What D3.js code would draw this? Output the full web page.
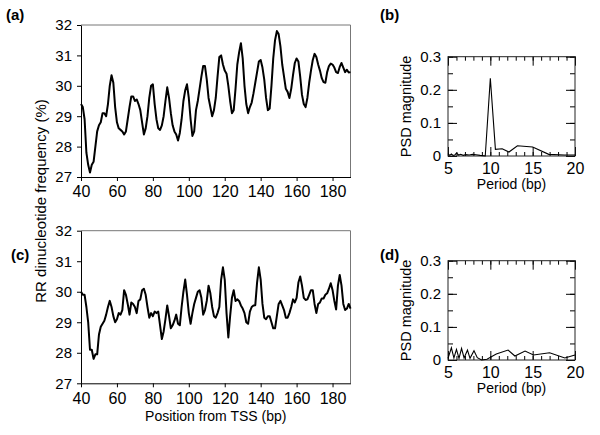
<!DOCTYPE html>
<html><head><meta charset="utf-8">
<script src="https://cdn.jsdelivr.net/npm/d3@7"></script>
<style>
body{margin:0;background:#fff}
svg text{font-family:"Liberation Sans",Arial,Helvetica,sans-serif}
</style>
</head><body>
<svg id="chart" width="600" height="435"></svg>
<script>
// ---------- DATA ----------
const positions = d3.range(40, 191); // bp from TSS, 40..190
const posTicks = [40, 60, 80, 100, 120, 140, 160, 180];
const freqTicks = [27, 28, 29, 30, 31, 32];

// (a) RR dinucleotide frequency (%)
const rrA = [
 29.4,29.3,28.9,27.8,27.4,27.15,27.4,27.5,28.0,28.5,
 28.7,28.8,29.1,29.1,29.0,29.4,30.0,30.35,30.1,29.3,
 28.8,28.6,28.55,28.5,28.4,28.5,28.9,29.3,29.65,29.65,
 29.5,29.55,29.4,29.2,28.8,28.4,28.6,29.0,29.6,30.0,
 30.05,29.4,28.9,28.6,28.55,28.7,29.0,29.5,29.95,29.6,
 29.1,28.7,28.5,28.4,28.2,28.45,28.9,29.5,29.85,30.05,
 29.6,28.9,28.35,28.5,29.2,29.5,29.9,30.3,30.65,30.65,
 30.2,29.6,29.3,29.0,29.2,29.6,30.3,30.95,31.0,30.7,
 30.5,30.4,30.0,29.5,29.1,29.2,29.9,30.7,31.1,31.4,
 30.9,30.0,29.4,29.1,29.3,29.45,29.75,30.1,30.45,30.8,
 30.85,30.6,30.2,29.6,29.2,29.25,30.0,30.9,31.5,31.8,
 31.7,31.3,30.7,30.3,29.9,29.8,29.6,29.9,30.35,30.75,
 30.9,30.8,30.3,29.7,29.4,29.3,29.6,30.1,30.5,30.85,
 31.05,30.95,30.7,30.5,30.25,30.12,30.1,30.45,30.65,30.73,
 30.7,30.6,30.45,30.42,30.62,30.75,30.6,30.45,30.53,30.44,
 30.45
];

// (c) RR dinucleotide frequency (%)
const rrC = [
 30.0,29.9,29.9,29.5,29.0,28.1,28.1,27.8,27.95,27.95,
 28.6,28.85,28.95,29.05,29.25,29.5,29.7,29.5,29.2,29.0,
 29.1,29.3,29.25,29.4,30.05,29.9,29.6,29.25,29.65,29.6,
 29.5,29.3,29.7,29.75,30.05,30.1,29.9,29.5,29.15,29.3,
 29.2,29.35,29.3,29.35,28.9,28.45,28.7,29.1,29.55,29.2,
 28.8,28.9,29.05,29.25,28.95,28.9,29.5,30.0,30.4,29.9,
 29.3,28.95,29.3,29.6,29.8,30.0,30.05,29.8,29.25,29.4,
 29.7,30.2,29.95,29.5,29.2,29.15,29.3,29.5,30.4,30.8,
 30.4,29.3,28.5,29.2,29.8,30.05,29.7,29.75,29.7,29.55,
 29.45,29.3,29.0,28.95,29.35,29.5,29.55,29.56,30.3,30.8,
 30.4,29.6,29.15,29.1,29.2,29.2,29.0,28.8,28.8,29.2,
 29.6,29.7,29.55,29.4,29.15,29.15,29.3,29.5,29.75,29.65,
 29.8,30.3,30.5,30.2,29.8,29.73,29.75,29.9,30.05,30.05,
 29.6,29.3,29.6,29.65,29.78,29.78,29.9,29.95,30.1,30.28,
 30.06,29.7,29.42,30.2,30.55,30.2,29.6,29.4,29.45,29.6,
 29.45
];

// (b), (d) PSD
const periodTicks = [5, 10, 15, 20];
const periodMinor = [5,6,7,8,9,10,11,12,13,14,15,16,17,18,19,20];
const psdTicks = [0, 0.1, 0.2, 0.3];
const psdMinor = [0, 0.05, 0.1, 0.15, 0.2, 0.25, 0.3];

const periodB = [5.0,5.2,5.4,5.6,5.8,6.0,6.25,6.5,6.8,7.1,7.5,7.9,8.3,8.8,9.4,10.0,10.6,11.4,12.2,13.2,15.0,16.9,18.75,20.0];
const psdB    = [0.007,0.002,0.006,0.002,0.003,0.009,0.003,0.005,0.002,0.004,0.003,0.005,0.004,0.002,0.0,0.235,0.02,0.022,0.012,0.031,0.027,0.005,0.003,0.003];

const periodD = [5.0,5.4,5.7,6.0,6.3,6.6,6.9,7.3,7.6,8.07,8.46,8.97,9.6,10.7,12.1,12.9,14.1,15.1,17.0,18.8,20.0];
const psdD    = [0.005,0.037,0.006,0.032,0.005,0.035,0.006,0.03,0.005,0.028,0.007,0.0,0.002,0.018,0.03,0.012,0.027,0.015,0.022,0.006,0.015];

// ---------- DRAW ----------
const svg = d3.select("#chart");
const FONT = '"Liberation Sans",Arial,Helvetica,sans-serif';

function styleAxis(g, size) {
  g.attr("font-family", FONT).attr("font-size", size);
  g.selectAll("text").attr("fill", "#000");
}

function linePanel(top, bottom, values) {
  const left = 81, right = 350.5;
  const x = d3.scaleLinear().domain([40, 190]).range([left, right]);
  const y = d3.scaleLinear().domain([27, 32]).range([bottom, top]);
  const g = svg.append("g");
  g.append("line").attr("x1", left).attr("x2", right).attr("y1", top).attr("y2", top)
    .attr("stroke", "#777").attr("stroke-width", 1);
  g.append("line").attr("x1", right).attr("x2", right).attr("y1", top).attr("y2", bottom)
    .attr("stroke", "#777").attr("stroke-width", 1);
  const gx = g.append("g").attr("transform", `translate(0,${bottom})`)
    .call(d3.axisBottom(x).tickValues(posTicks).tickSize(4).tickSizeOuter(0).tickPadding(5)
      .tickFormat(d3.format("d")));
  styleAxis(gx, 16);
  const gy = g.append("g").attr("transform", `translate(${left},0)`)
    .call(d3.axisLeft(y).tickValues(freqTicks).tickSize(4).tickSizeOuter(0).tickPadding(5)
      .tickFormat(d3.format("d")));
  styleAxis(gy, 15);
  const line = d3.line().x((d, i) => x(positions[i])).y(d => y(d));
  g.append("path").datum(values).attr("d", line)
    .attr("fill", "none").attr("stroke", "#000").attr("stroke-width", 2)
    .attr("stroke-linejoin", "round");
}

function psdPanel(top, bottom, periods, vals) {
  const left = 448, right = 575;
  const x = d3.scaleLinear().domain([5, 20]).range([left, right]);
  const y = d3.scaleLinear().domain([0, 0.3]).range([bottom, top]);
  const g = svg.append("g");
  const mk = (axis, tr) => {
    const a = g.append("g").attr("transform", tr).call(axis);
    a.select(".domain").remove();
    return a;
  };
  // minor ticks, all four sides (inward)
  mk(d3.axisBottom(x).tickValues(periodMinor).tickSize(-4).tickFormat(""), `translate(0,${bottom})`);
  mk(d3.axisTop(x).tickValues(periodMinor).tickSize(-4).tickFormat(""), `translate(0,${top})`);
  mk(d3.axisLeft(y).tickValues(psdMinor).tickSize(-5).tickFormat(""), `translate(${left},0)`);
  mk(d3.axisRight(y).tickValues(psdMinor).tickSize(-5).tickFormat(""), `translate(${right},0)`);
  // major ticks
  mk(d3.axisTop(x).tickValues(periodTicks).tickSize(-9).tickFormat(""), `translate(0,${top})`);
  mk(d3.axisRight(y).tickValues(psdTicks).tickSize(-9).tickFormat(""), `translate(${right},0)`);
  const gx = mk(d3.axisBottom(x).tickValues(periodTicks).tickSize(-9).tickPadding(7).tickFormat(d3.format("d")), `translate(0,${bottom})`);
  styleAxis(gx, 16);
  const gy = mk(d3.axisLeft(y).tickValues(psdTicks).tickSize(-9).tickPadding(7)
    .tickFormat(d => d === 0 ? "0" : d3.format(".1f")(d)), `translate(${left},0)`);
  styleAxis(gy, 15);
  g.append("rect").attr("x", left).attr("y", top).attr("width", right - left).attr("height", bottom - top)
    .attr("fill", "none").attr("stroke", "#222").attr("stroke-width", 1);
  const line = d3.line().x((d, i) => x(periods[i])).y(d => y(d));
  g.append("path").datum(vals).attr("d", line)
    .attr("fill", "none").attr("stroke", "#000").attr("stroke-width", 1.1);
  g.append("text").attr("x", (left + right) / 2).attr("y", bottom + 33)
    .attr("text-anchor", "middle").attr("font-size", 14).text("Period (bp)");
  g.append("text").attr("transform", `translate(411,${(top + bottom) / 2}) rotate(-90)`)
    .attr("text-anchor", "middle").attr("font-size", 14.5).text("PSD magnitude");
}

linePanel(25, 177, rrA);
linePanel(230.7, 383.3, rrC);
psdPanel(56.7, 156, periodB, psdB);
psdPanel(260.7, 360, periodD, psdD);

// shared titles
svg.append("text").attr("transform", "translate(46,201) rotate(-90)")
  .attr("text-anchor", "middle").attr("font-size", 15).text("RR dinucleotide frequency (%)");
svg.append("text").attr("x", (81 + 350.5) / 2).attr("y", 421)
  .attr("text-anchor", "middle").attr("font-size", 14).text("Position from TSS (bp)");

// panel labels
const labels = [["(a)", 6, 20], ["(b)", 380, 20], ["(c)", 11, 260], ["(d)", 380, 260]];
svg.selectAll("text.plabel").data(labels).enter().append("text")
  .attr("class", "plabel").attr("x", d => d[1]).attr("y", d => d[2])
  .attr("font-size", 15).attr("font-weight", "bold").text(d => d[0]);
</script>
</body></html>
